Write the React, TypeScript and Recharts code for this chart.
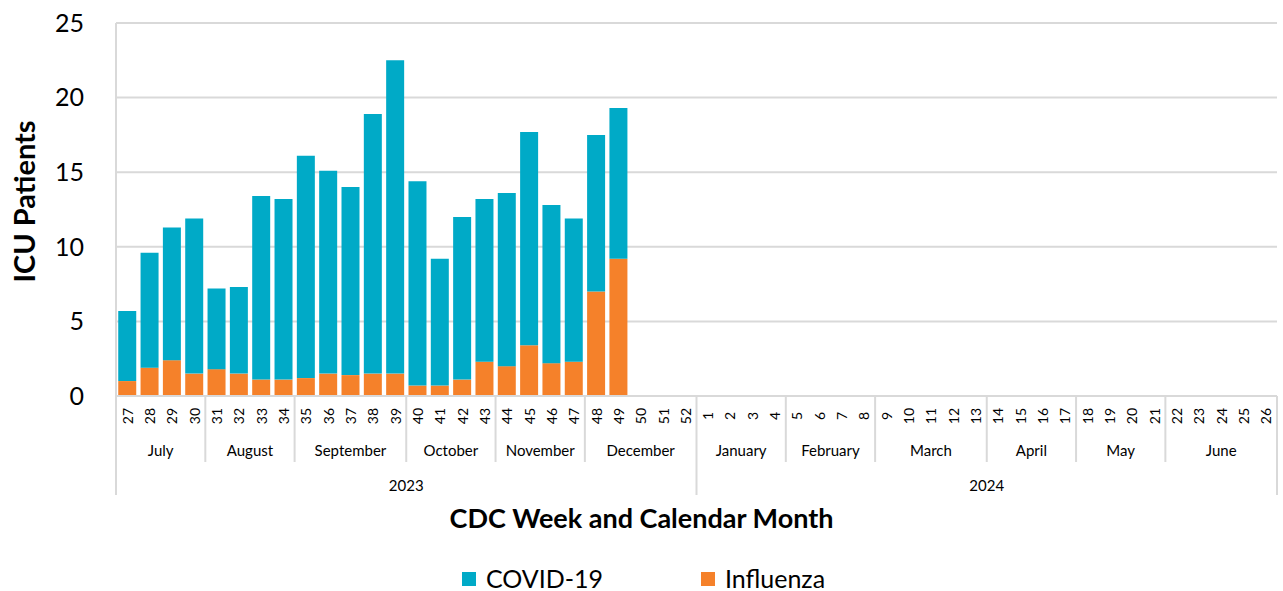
import { BarChart, Bar, XAxis, YAxis, CartesianGrid, Legend } from 'recharts';

const weeks = [
  '27', '28', '29', '30', '31', '32', '33', '34', '35', '36', '37', '38', '39',
  '40', '41', '42', '43', '44', '45', '46', '47', '48', '49', '50', '51', '52',
  '1', '2', '3', '4', '5', '6', '7', '8', '9', '10', '11', '12', '13',
  '14', '15', '16', '17', '18', '19', '20', '21', '22', '23', '24', '25', '26',
];

const influenza = [
  1.0, 1.9, 2.4, 1.5, 1.8, 1.5, 1.1, 1.1, 1.2, 1.5, 1.4, 1.5, 1.5,
  0.7, 0.7, 1.1, 2.3, 2.0, 3.4, 2.2, 2.3, 7.0, 9.2,
];

const covid = [
  4.7, 7.7, 8.9, 10.4, 5.4, 5.8, 12.3, 12.1, 14.9, 13.6, 12.6, 17.4, 21.0,
  13.7, 8.5, 10.9, 10.9, 11.6, 14.3, 10.6, 9.6, 10.5, 10.1,
];

const months = [
  'July', 'August', 'September', 'October', 'November', 'December',
  'January', 'February', 'March', 'April', 'May', 'June',
];
const monthWeeks = [4, 4, 5, 4, 4, 5, 4, 4, 5, 4, 4, 5];

const years = ['2023', '2024'];
const yearWeeks = [26, 26];

const yTicks = [0, 5, 10, 15, 20, 25];

const COVID_COLOR = '#00AAC7';
const FLU_COLOR = '#F5812A';
const GRID = '#D9D9D9';
const FONT = 'Lato, "Open Sans", sans-serif';

const W = 1283;
const H = 591;
const MARGIN = { top: 23, right: 6, left: 0, bottom: 0 };
const Y_AXIS_W = 116;
const BAND = (W - MARGIN.left - MARGIN.right - Y_AXIS_W) / weeks.length;

const data = weeks.map((week, i) => ({
  week,
  influenza: influenza[i] ?? null,
  covid: covid[i] ?? null,
}));

// first category index of each group
function groupStarts(sizes: number[]) {
  const starts: number[] = [];
  let acc = 0;
  sizes.forEach((n) => {
    starts.push(acc);
    acc += n;
  });
  return starts;
}
const monthStarts = groupStarts(monthWeeks);
const yearStarts = groupStarts(yearWeeks);

function WeekTick(props: any) {
  const { x, y, payload } = props;
  const index: number = payload.index ?? props.index;
  const left = x - BAND / 2;
  const mi = monthStarts.indexOf(index);
  const yi = yearStarts.indexOf(index);
  const isLast = index === weeks.length - 1;
  return (
    <g>
      <text
        x={x}
        y={y + 20}
        transform={`rotate(-90, ${x}, ${y + 20})`}
        textAnchor="middle"
        dominantBaseline="central"
        fontSize={14}
        fontFamily={FONT}
        fill="#000"
      >
        {payload.value}
      </text>
      {mi >= 0 && (
        <>
          <line x1={left} x2={left} y1={y} y2={yi >= 0 ? y + 99 : y + 66} stroke={GRID} strokeWidth={2} />
          <text
            x={left + (monthWeeks[mi] * BAND) / 2}
            y={y + 54}
            textAnchor="middle"
            dominantBaseline="central"
            fontSize={15}
            fontFamily={FONT}
            fill="#000"
          >
            {months[mi]}
          </text>
        </>
      )}
      {yi >= 0 && (
        <text
          x={left + (yearWeeks[yi] * BAND) / 2}
          y={y + 89}
          textAnchor="middle"
          dominantBaseline="central"
          fontSize={15}
          fontFamily={FONT}
          fill="#000"
        >
          {years[yi]}
        </text>
      )}
      {isLast && (
        <line x1={x + BAND / 2} x2={x + BAND / 2} y1={y} y2={y + 99} stroke={GRID} strokeWidth={2} />
      )}
    </g>
  );
}

function YLabel(props: any) {
  const { viewBox } = props;
  const cx = viewBox.x + 23;
  const cy = viewBox.y + viewBox.height / 2 - 8;
  return (
    <text
      x={cx}
      y={cy}
      transform={`rotate(-90, ${cx}, ${cy})`}
      textAnchor="middle"
      dominantBaseline="central"
      fontSize={29}
      fontWeight="bold"
      fontFamily={FONT}
      fill="#000"
    >
      ICU Patients
    </text>
  );
}

function XLabel(props: any) {
  const { viewBox } = props;
  return (
    <text
      x={W / 2}
      y={viewBox.y + 121}
      textAnchor="middle"
      dominantBaseline="central"
      fontSize={27}
      fontWeight="bold"
      fontFamily={FONT}
      fill="#000"
    >
      CDC Week and Calendar Month
    </text>
  );
}

function LegendContent() {
  const items = [
    { name: 'COVID-19', color: COVID_COLOR },
    { name: 'Influenza', color: FLU_COLOR },
  ];
  return (
    <div
      style={{
        height: 40,
        display: 'flex',
        justifyContent: 'center',
        alignItems: 'flex-end',
        gap: 98,
        fontFamily: FONT,
        fontSize: 25,
        lineHeight: '25px',
        color: '#000',
        paddingLeft: 10,
      }}
    >
      {items.map((it) => (
        <div key={it.name} style={{ display: 'flex', alignItems: 'center' }}>
          <span style={{ width: 14, height: 14, background: it.color, marginRight: 10, display: 'inline-block' }} />
          <span>{it.name}</span>
        </div>
      ))}
    </div>
  );
}

export default function App() {
  return (
    <div style={{ position: 'absolute', left: 0, top: 0, width: W, height: H, background: '#fff' }}>
      <BarChart width={W} height={H} data={data} margin={MARGIN} barCategoryGap="10%">
        <CartesianGrid vertical={false} stroke={GRID} strokeWidth={2} />
        <XAxis
          dataKey="week"
          interval={0}
          tickLine={false}
          tickSize={0}
          tickMargin={0}
          height={155}
          axisLine={{ stroke: GRID, strokeWidth: 2 }}
          tick={<WeekTick />}
          label={<XLabel />}
        />
        <YAxis
          width={Y_AXIS_W}
          domain={[0, 25]}
          ticks={yTicks}
          interval={0}
          tickLine={false}
          axisLine={{ stroke: GRID, strokeWidth: 2 }}
          tickMargin={26}
          tick={{ fontSize: 25, fill: '#000', fontFamily: FONT }}
          label={<YLabel />}
        />
        <Legend verticalAlign="bottom" content={<LegendContent />} />
        <Bar dataKey="influenza" name="Influenza" stackId="a" fill={FLU_COLOR} isAnimationActive={false} />
        <Bar dataKey="covid" name="COVID-19" stackId="a" fill={COVID_COLOR} isAnimationActive={false} />
      </BarChart>
    </div>
  );
}
